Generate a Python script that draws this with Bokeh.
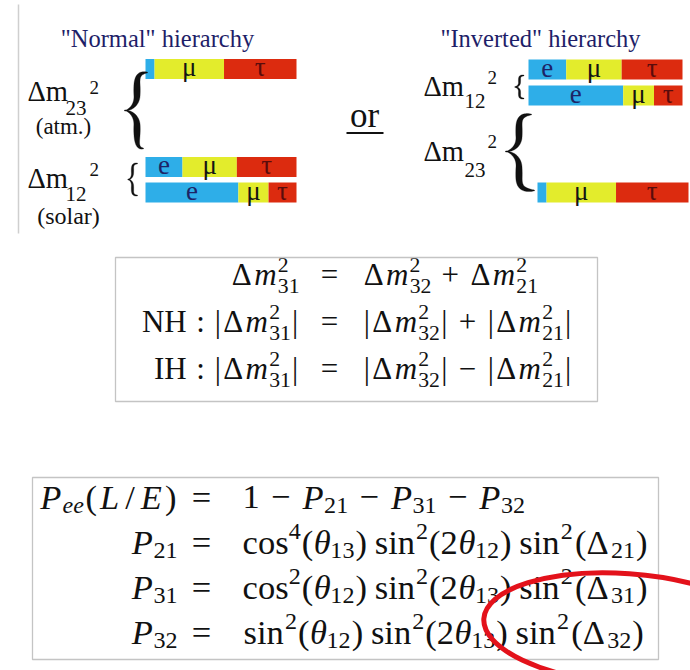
import numpy as np
from bokeh.plotting import figure
from bokeh.models import Range1d, ColumnDataSource
from bokeh.core.properties import value
from bokeh.embed import file_html
from bokeh.resources import INLINE

# ---------------- data ----------------
flavours = ["e", "μ", "τ"]
flavour_colors = ["#2eaee8", "#e3ec2c", "#dc2b0f"]
flavour_text_colors = ["#1d2466", "#141414", "#5a0c0c"]
nu1_mix = [0.615, 0.200, 0.185]
nu2_mix = [0.245, 0.360, 0.395]
nu3_mix = [0.060, 0.460, 0.480]
normal_states = ["nu3", "nu2", "nu1"]      # top to bottom
inverted_states = ["nu2", "nu1", "nu3"]    # top to bottom
mixes = {"nu1": nu1_mix, "nu2": nu2_mix, "nu3": nu3_mix}

titles = ['"Normal" hierarchy', '"Inverted" hierarchy']

SERIF = "'Liberation Serif', 'Times New Roman', serif"
TDY = 0.32   # empirical correction of the rendered baseline (in em)

# ---------------- figure ----------------
p = figure(width=690, height=670, x_range=Range1d(0, 690), y_range=Range1d(670, 0),
           output_backend="svg", toolbar_location=None, min_border=0,
           x_axis_type=None, y_axis_type=None)
p.grid.visible = False
p.outline_line_color = None
p.background_fill_color = "white"
p.border_fill_color = "white"


def txt(x, y, s, size, style="normal", color="#111111", align="left", font=SERIF):
    p.text(x=[x], y=[y - TDY * size], text=[s], text_font=value(font),
           text_font_size=f"{size:.1f}px", text_font_style=style, text_color=color,
           text_align=align, text_baseline="alphabetic")


# ---------------- top diagram ----------------
p.segment(x0=[18], y0=[4], x1=[18], y1=[233], line_color="#cfcfcf", line_width=1.5)

txt(157, 46, titles[0], 24.5, color="#1e1e68", align="center")
txt(540, 46, titles[1], 24.5, color="#1e1e68", align="center")

LABEL_SIZE = 27


def draw_panel(states, ys, x0s, lengths):
    rows = dict(y=[], left=[], right=[], color=[])
    labs = dict(x=[], y=[], text=[], color=[])
    for st, yc, x0, L in zip(states, ys, x0s, lengths):
        mix = mixes[st]
        acc = 0.0
        for f, frac in enumerate(mix):
            lft = x0 + acc * L
            acc += frac
            rgt = x0 + acc * L
            rows["y"].append(yc); rows["left"].append(lft); rows["right"].append(rgt)
            rows["color"].append(flavour_colors[f])
            if frac >= 0.1:
                labs["x"].append((lft + rgt) / 2)
                labs["y"].append(yc + 7 - TDY * LABEL_SIZE)
                labs["text"].append(flavours[f]); labs["color"].append(flavour_text_colors[f])
    p.hbar(y="y", left="left", right="right", height=20, fill_color="color",
           line_color=None, source=ColumnDataSource(rows))
    p.text(x="x", y="y", text="text", text_color="color", source=ColumnDataSource(labs),
           text_font=value(SERIF), text_font_size=f"{LABEL_SIZE}px", text_align="center",
           text_baseline="alphabetic")


draw_panel(normal_states, [68.5, 166.5, 192], [145, 145, 145], [151, 151, 151])
draw_panel(inverted_states, [69, 95, 192], [528, 528, 537], [154, 154, 151])


def brace(x_tip_top, x_tip_bot, x_arm, x_cusp, y_top, y_bot, y_c, thick, wmin=0.8):
    def cubic(P0, P1, P2, P3, n=40):
        t = np.linspace(0, 1, n)[:, None]
        return ((1 - t) ** 3) * P0 + 3 * ((1 - t) ** 2) * t * P1 + 3 * (1 - t) * t ** 2 * P2 + t ** 3 * P3

    def half(x_tip, y_end, sgn):
        r = abs(x_tip - x_arm)
        hlen = abs(y_c - y_end)
        rv = min(1.6 * r + 2, 0.35 * hlen)
        rv2 = min(1.4 * abs(x_arm - x_cusp) + 2, 0.4 * hlen)
        A = np.array([x_tip, y_end]); B = np.array([x_arm, y_end + sgn * rv])
        s1 = cubic(A, np.array([x_arm + 0.15 * r, y_end]), np.array([x_arm, y_end + sgn * 0.35 * rv]), B)
        C = np.array([x_arm, y_c - sgn * rv2])
        s2 = np.linspace(B, C, 20)
        s3 = cubic(C, np.array([x_arm, y_c - sgn * 0.3 * rv2]),
                   np.array([x_cusp + 0.35 * (x_arm - x_cusp), y_c]), np.array([x_cusp, y_c]))
        pts = np.vstack([s1, s2[1:], s3[1:]])
        d = np.r_[0, np.cumsum(np.hypot(*np.diff(pts, axis=0).T))]
        s = d / d[-1]
        w = wmin + (thick - wmin) * np.sin(np.pi * np.clip(s * 1.05, 0, 1)) ** 0.9
        return pts, w

    top, wt = half(x_tip_top, y_top, 1)
    bot, wb = half(x_tip_bot, y_bot, -1)
    pts = np.vstack([top, bot[::-1][1:]])
    w = np.r_[wt, wb[::-1][1:]]
    tg = np.gradient(pts, axis=0)
    tg /= np.hypot(tg[:, 0], tg[:, 1])[:, None] + 1e-9
    nrm = np.c_[-tg[:, 1], tg[:, 0]]
    left = pts + nrm * (w[:, None] / 2)
    right = pts - nrm * (w[:, None] / 2)
    poly = np.vstack([left, right[::-1]])
    p.patch(poly[:, 0], poly[:, 1], fill_color="#111111", line_color="#111111", line_width=0.3)


brace(147, 143, 136.5, 124, 72, 148, 110, 6.5)
brace(137, 137, 132, 127.5, 163, 195, 179, 2.4)
brace(531, 534, 518.5, 505, 114, 190, 151, 6.5)
brace(523.5, 523.5, 519, 514.5, 75, 98, 86.5, 2.2)


# Delta m labels (main, sub, sup)
def dm_label(x, base, sub, sub_base, sup_base, sub_x, sup_x):
    txt(x, base, "Δm", 28.5)
    txt(sub_x, sub_base, sub, 21)
    txt(sup_x, sup_base, "2", 19)


dm_label(27, 100, "23", 114, 93, 65, 89)
dm_label(27, 187, "12", 200, 175, 65, 89)
dm_label(423, 95, "12", 107, 83, 464, 487)
dm_label(423, 160, "23", 176, 147, 464, 487)

txt(63, 133, "(atm.)", 23, align="center")
txt(68, 223, "(solar)", 24, align="center")

txt(364, 126, "or", 35, align="center")
p.segment(x0=[346], y0=[132.5], x1=[383], y1=[132.5], line_color="#111111", line_width=2.2)

# ---------------- equations ----------------
WID = {'0': .5, '1': .5, '2': .5, '3': .5, '4': .5, '(': .389, ')': .389, '=': .778,
       '+': .778, '−': .778, '|': .278, ':': .278, '/': .5, 'Δ': .72, 'm': .80,
       'P': .642, 'L': .681, 'E': .738, 'e': .466, 'θ': .469}
WORD = {'NH': 1.5, 'IH': 1.111, 'cos': 1.338, 'sin': 1.228}
ITALIC = set('mPLEeθ')


def wem(s):
    return WORD[s] if s in WORD else sum(WID[c] for c in s)


def runs(s):
    if s in WORD:
        return [(s, 'normal')]
    out = []
    for ch in s:
        st = 'italic' if ch in ITALIC else 'normal'
        if out and out[-1][1] == st:
            out[-1] = (out[-1][0] + ch, st)
        else:
            out.append((ch, st))
    return out


def build(items, F):
    g = []
    x = 0.0
    for it in items:
        k = it[0]
        if k == 'sp':
            x += it[1] * F
        elif k == 't':
            for seg, st in runs(it[1]):
                w = wem(seg) * F
                g.append((x + w / 2, 0.0, seg, F, st))
                x += w
        elif k == 'ss':
            sup, sub, up, dn = it[1:]
            f = 0.7 * F
            w = 0.0
            if sup:
                ws = wem(sup) * f
                g.append((x + ws / 2, -up * F, sup, f, 'normal'))
                w = max(w, ws)
            if sub:
                wb = wem(sub) * f
                g.append((x + wb / 2, dn * F, sub, f,
                          'italic' if all(c in ITALIC for c in sub) else 'normal'))
                w = max(w, wb)
            x += w
        elif k == 'bin':
            x += 0.222 * F
            w = 0.778 * F
            g.append((x + w / 2, 0.0, it[1], F, 'normal'))
            x += w + 0.222 * F
    return g, x


eq_glyphs = []


def eq_line(left, right, base, F, xL, xeq, xR):
    gl, wl = build(left, F)
    for (gx, gy, s, f, st) in gl:
        eq_glyphs.append((xL - wl + gx, base + gy, s, f, st))
    eq_glyphs.append((xeq, base, "=", F, "normal"))
    gr, wr = build(right, F)
    for (gx, gy, s, f, st) in gr:
        eq_glyphs.append((xR + gx, base + gy, s, f, st))


def DM(a):
    return [('t', 'Δm'), ('ss', '2', a, .40, .27)]


def ABS(a):
    return [('t', '|')] + DM(a) + [('t', '|')]


Fm = 31
eq_line(DM('31'), DM('32') + [('bin', '+')] + DM('21'), 284, Fm, 299, 329, 362)
eq_line([('t', 'NH'), ('sp', .278), ('t', ':'), ('sp', .278)] + ABS('31'),
        ABS('32') + [('bin', '+')] + ABS('21'), 331, Fm, 299, 329, 362)
eq_line([('t', 'IH'), ('sp', .278), ('t', ':'), ('sp', .278)] + ABS('31'),
        ABS('32') + [('bin', '−')] + ABS('21'), 378, Fm, 299, 329, 362)


def PS(a):
    return [('t', 'P'), ('ss', None, a, 0, .15)]


def FN(name, pw):
    return [('t', name), ('ss', pw, None, .40, 0)]


def ARG(pre, sub):
    return [('t', pre), ('ss', None, sub, 0, .15), ('t', ')')]


Fb = 34.5
eq_line([('t', 'P'), ('ss', None, 'ee', 0, .15), ('t', '(L/E)')],
        [('t', '1'), ('bin', '−')] + PS('21') + [('bin', '−')] + PS('31') + [('bin', '−')] + PS('32'),
        508, Fb, 177, 201, 242)
eq_line(PS('21'),
        FN('cos', '4') + ARG('(θ', '13') + [('sp', .167)] + FN('sin', '2') + ARG('(2θ', '12')
        + [('sp', .167)] + FN('sin', '2') + ARG('(Δ', '21'), 553, Fb, 177, 201, 242)
eq_line(PS('31'),
        FN('cos', '2') + ARG('(θ', '12') + [('sp', .167)] + FN('sin', '2') + ARG('(2θ', '13')
        + [('sp', .167)] + FN('sin', '2') + ARG('(Δ', '31'), 598, Fb, 177, 201, 242)
eq_line(PS('32'),
        FN('sin', '2') + ARG('(θ', '12') + [('sp', .167)] + FN('sin', '2') + ARG('(2θ', '13')
        + [('sp', .167)] + FN('sin', '2') + ARG('(Δ', '32'), 643, Fb, 177, 201, 242)

groups = {}
for (gx, gy, s, f, st) in eq_glyphs:
    key = (round(f, 1), st)
    d = groups.setdefault(key, dict(x=[], y=[], text=[]))
    d["x"].append(gx); d["y"].append(gy - TDY * f); d["text"].append(s)
for (f, st), d in groups.items():
    p.text(x="x", y="y", text="text", source=ColumnDataSource(d), text_font=value(SERIF),
           text_font_size=f"{f:.1f}px", text_font_style=st, text_color="#111111",
           text_align="center", text_baseline="alphabetic")

# boxes
p.quad(left=[115], right=[597], top=[257], bottom=[401], fill_color=None,
       line_color="#c4c4c4", line_width=1.3)
p.quad(left=[32], right=[658], top=[477], bottom=[659], fill_color=None,
       line_color="#c4c4c4", line_width=1.3)

# red hand-drawn ellipse
p.ellipse(x=[625], y=[628], width=[284], height=[110], angle=-0.07,
          fill_color=None, line_color="#e3121b", line_width=5)

open("out.html", "w").write(file_html(p, INLINE))
